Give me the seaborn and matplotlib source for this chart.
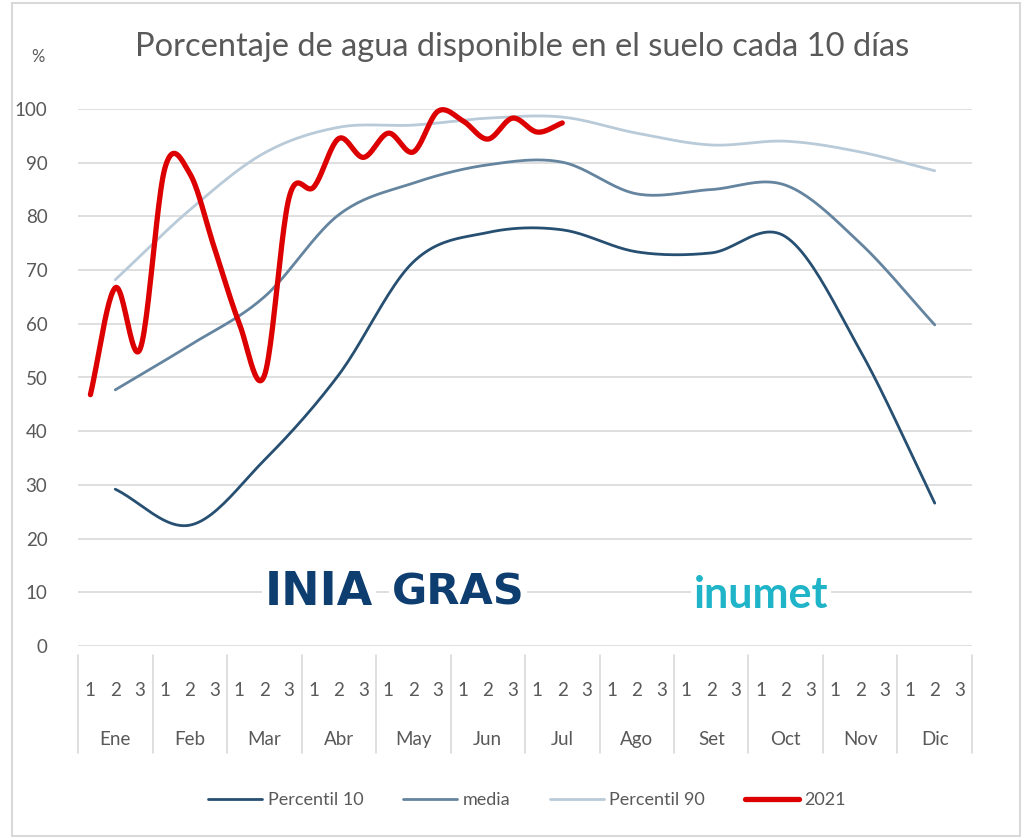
import numpy as np
import pandas as pd
import matplotlib
matplotlib.use("Agg")
import matplotlib.pyplot as plt
import matplotlib.patches as mpatches
import seaborn as sns

months = ["Ene", "Feb", "Mar", "Abr", "May", "Jun", "Jul", "Ago", "Set", "Oct", "Nov", "Dic"]
dekads = ["1", "2", "3"]

# normals: one value per month, placed on the 2nd dekad
p10 = [29.2, 22.5, 34.6, 50.5, 71.5, 77.0, 77.5, 73.4, 73.2, 76.2, 55.0, 26.6]
media = [47.7, 56.0, 65.0, 80.3, 86.2, 89.6, 90.1, 84.2, 85.0, 85.8, 75.0, 59.8]
p90 = [68.2, 81.2, 91.8, 96.6, 97.0, 98.3, 98.5, 95.5, 93.3, 94.0, 92.0, 88.5]
# 2021 every dekad, Ene-1 .. Jul-2
y2021 = [46.8, 66.7, 55.3, 89.0, 88.0, 74.0, 60.0, 50.3, 83.5, 85.5,
         94.5, 91.0, 95.5, 92.0, 99.6, 97.8, 94.4, 98.3, 95.7, 97.4]

grey = "#595959"
sns.set_theme(style="white")
plt.rcParams["font.family"] = ["Lato", "DejaVu Sans"]


def smooth(x, y, n=24):
    # Catmull-Rom style smoothing, like Excel's smoothed lines
    x = np.asarray(x, float)
    y = np.asarray(y, float)
    px = np.concatenate([[2 * x[0] - x[1]], x, [2 * x[-1] - x[-2]]])
    py = np.concatenate([[2 * y[0] - y[1]], y, [2 * y[-1] - y[-2]]])
    xs, ys = [], []
    t = np.linspace(0, 1, n, endpoint=False)
    for i in range(1, len(px) - 2):
        for p, out in ((px, xs), (py, ys)):
            p0, p1, p2, p3 = p[i - 1], p[i], p[i + 1], p[i + 2]
            out.extend(0.5 * (2 * p1 + (-p0 + p2) * t
                              + (2 * p0 - 5 * p1 + 4 * p2 - p3) * t ** 2
                              + (-p0 + 3 * p1 - 3 * p2 + p3) * t ** 3))
    xs.append(x[-1])
    ys.append(y[-1])
    return np.array(xs), np.array(ys)


fig = plt.figure(figsize=(10.25, 8.38), dpi=100)
ax = fig.add_axes([78 / 1025, 1 - 646 / 838, 894 / 1025, 537 / 838])

month_x = np.arange(12) * 3 + 1
series = [("Percentil 10", p10, "#264f72", 2.0),
          ("media", media, "#64849f", 2.0),
          ("Percentil 90", p90, "#b9cad8", 2.0)]
for name, vals, col, lw in series:
    sx, sy = smooth(month_x, vals)
    sns.lineplot(x=sx, y=sy, ax=ax, color=col, linewidth=lw, label=name, sort=False)
sx, sy = smooth(np.arange(len(y2021)), y2021)
sns.lineplot(x=sx, y=sy, ax=ax, color="#dc0000", linewidth=3.8, label="2021", sort=False,
             solid_capstyle="round")

ax.set_xlim(-0.5, 35.5)
ax.set_ylim(0, 100)
ax.set_yticks(range(0, 101, 10))
ax.yaxis.grid(True, color="#d9d9d9", linewidth=1.2)
ax.set_axisbelow(True)
for s in ax.spines.values():
    s.set_visible(False)
ax.set_xticks([])
ax.tick_params(axis="y", labelsize=13.5, labelcolor=grey, pad=22, length=0)
for l in ax.get_lines():
    l.set_clip_on(False)

# multi-level category axis
trans = ax.get_xaxis_transform()
for i in range(36):
    ax.text(i, -0.082, dekads[i % 3], transform=trans, ha="center", va="center",
            fontsize=13.5, color=grey)
for m in range(12):
    ax.text(m * 3 + 1, -0.175, months[m], transform=trans, ha="center", va="center",
            fontsize=13.5, color=grey)
for b in range(13):
    ax.plot([b * 3 - 0.5] * 2, [-0.017, -0.2], transform=trans, color="#d9d9d9",
            linewidth=1.2, clip_on=False)

# logos as text
bb = dict(facecolor="white", edgecolor="none", pad=2)
ax.text(9.2, 10, "INIA", fontsize=33, fontweight="heavy", color="#0e3d6f",
        ha="center", va="center", family=["DejaVu Sans"], bbox=bb)
ax.text(14.8, 10, "GRAS", fontsize=31, fontweight="bold", color="#0e3d6f",
        ha="center", va="center", family=["DejaVu Sans"], bbox=bb)
ax.text(27.0, 9.5, "inumet", fontsize=31, fontweight="bold", color="#1fb4c8",
        ha="center", va="center", family=["Lato", "DejaVu Sans"], bbox=bb)

fig.text(522 / 1025, 1 - 47 / 838, "Porcentaje de agua disponible en el suelo cada 10 días",
         ha="center", va="center", fontsize=23.5, color=grey)
fig.text(38 / 1025, 1 - 57 / 838, "%", ha="center", va="center", fontsize=12, color=grey)

handles, labels = ax.get_legend_handles_labels()
ax.get_legend().remove()
fig.legend(handles, labels, loc="center", bbox_to_anchor=(527 / 1025, 1 - 800 / 838),
           ncol=4, frameon=False, fontsize=13, handlelength=3.0, handletextpad=0.3,
           columnspacing=2.2, labelcolor=grey)

fig.patches.append(mpatches.Rectangle((12 / 1025, 2 / 838), 1008 / 1025, 833 / 838,
                                      transform=fig.transFigure, fill=False,
                                      edgecolor="#d9d9d9", linewidth=1.5))

fig.savefig("out.png", dpi=100)
